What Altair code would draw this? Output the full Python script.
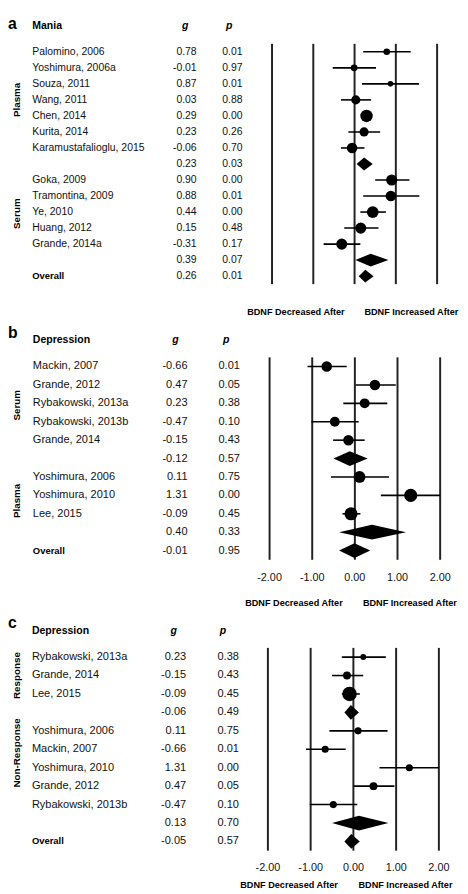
import altair as alt
import pandas as pd

FONT = "Liberation Sans"

# ---------------- data ----------------
ticks = [-2, -1, 0, 1, 2]
tick_labels = ["-2.00", "-1.00", "0.00", "1.00", "2.00"]

# Panel a : Mania
names_a = ["Palomino, 2006", "Yoshimura, 2006a", "Souza, 2011", "Wang, 2011", "Chen, 2014",
           "Kurita, 2014", "Karamustafalioglu, 2015", "", "Goka, 2009", "Tramontina, 2009",
           "Ye, 2010", "Huang, 2012", "Grande, 2014a", "", "Overall"]
g_a = [0.78, -0.01, 0.87, 0.03, 0.29, 0.23, -0.06, 0.23, 0.90, 0.88, 0.44, 0.15, -0.31, 0.39, 0.26]
p_a = ["0.01", "0.97", "0.01", "0.88", "0.00", "0.26", "0.70", "0.03", "0.00", "0.01", "0.00",
       "0.48", "0.17", "0.07", "0.01"]
lo_a = [0.21, -0.53, 0.18, -0.33, 0.17, -0.15, -0.33, 0.05, 0.50, 0.21, 0.14, -0.25, -0.75, 0.02, 0.10]
hi_a = [1.36, 0.52, 1.56, 0.40, 0.41, 0.62, 0.24, 0.44, 1.33, 1.57, 0.76, 0.58, 0.14, 0.82, 0.46]
weight_a = [28, 31, 20, 54, 101, 54, 72, None, 80, 72, 90, 80, 80, None, None]
groups_a = ["Plasma", "Serum"]
group_rows_a = [4.0, 11.1]

# Panel b : Depression
names_b = ["Mackin, 2007", "Grande, 2012", "Rybakowski, 2013a", "Rybakowski, 2013b", "Grande, 2014",
           "", "Yoshimura, 2006", "Yoshimura, 2010", "Lee, 2015", "", "Overall"]
g_b = [-0.66, 0.47, 0.23, -0.47, -0.15, -0.12, 0.11, 1.31, -0.09, 0.40, -0.01]
p_b = ["0.01", "0.05", "0.38", "0.10", "0.43", "0.57", "0.75", "0.00", "0.45", "0.33", "0.95"]
lo_b = [-1.11, 0.02, -0.27, -1.02, -0.51, -0.50, -0.56, 0.61, -0.29, -0.37, -0.37]
hi_b = [-0.19, 0.96, 0.76, 0.09, 0.23, 0.30, 0.80, 2.00, 0.13, 1.20, 0.36]
weight_b = [72, 72, 63, 63, 72, None, 90, 111, 111, None, None]
groups_b = ["Serum", "Plasma"]
group_rows_b = [3.1, 8.3]

# Panel c : Depression (response)
names_c = ["Rybakowski, 2013a", "Grande, 2014", "Lee, 2015", "", "Yoshimura, 2006", "Mackin, 2007",
           "Yoshimura, 2010", "Grande, 2012", "Rybakowski, 2013b", "", "Overall"]
g_c = [0.23, -0.15, -0.09, -0.06, 0.11, -0.66, 1.31, 0.47, -0.47, 0.13, -0.05]
p_c = ["0.38", "0.43", "0.45", "0.49", "0.75", "0.01", "0.00", "0.05", "0.10", "0.70", "0.57"]
lo_c = [-0.27, -0.50, -0.27, -0.21, -0.56, -1.11, 0.61, 0.00, -1.02, -0.50, -0.21]
hi_c = [0.76, 0.23, 0.15, 0.13, 0.80, -0.18, 2.00, 0.96, 0.09, 0.82, 0.15]
weight_c = [23, 40, 135, None, 33, 33, 33, 40, 33, None, None]
groups_c = ["Response", "Non-Response"]
group_rows_c = [2.0, 6.2]

dec_label = "BDNF Decreased After"
inc_label = "BDNF Increased After"

# ---------------- layout (pixels) ----------------
LAY_A = dict(h=308, xr=[268.7, 436.7], yr=[32.7, 261.0], fs=10.6, name_x=24.7, g_r=192, p_r=238.7,
             g_head=180.3, p_head=225, head_y=6, letter_y=9, ticks_y=None, bdnf_y=297.7,
             bdnf_x=[293, 410.5])
LAY_B = dict(h=296, xr=[266.2, 439.8], yr=[45.0, 232.3], fs=11.2, name_x=25.3, g_r=182.7, p_r=236,
             g_head=170.3, p_head=222, head_y=18, letter_y=16, ticks_y=260, bdnf_y=285.7,
             bdnf_x=[291, 409])
LAY_C = dict(h=284, xr=[264.5, 438.5], yr=[44.7, 232.3], fs=11.2, name_x=24.3, g_r=181.3, p_r=235,
             g_head=168.7, p_head=218.7, head_y=18, letter_y=15, ticks_y=259, bdnf_y=277,
             bdnf_x=[286, 404.5])


def one_text(txt, x, y, **kw):
    return alt.Chart(pd.DataFrame({"t": [txt]})).mark_text(font=FONT, color="black", **kw).encode(
        x=alt.value(x), y=alt.value(y), text="t:N")


def panel(letter, header, names, g, p, lo, hi, weight, groups, group_rows, L):
    n = len(names)
    rows = list(range(1, n + 1))
    kind = ["overall" if nm == "Overall" else ("pooled" if nm == "" else "study") for nm in names]
    df = pd.DataFrame(dict(row=rows, name=names, g=g, p=p, lo=lo, hi=hi, w=weight, kind=kind))
    df["gtxt"] = [f"{v:.2f}" for v in g]
    studies = df[df.kind == "study"]
    pooled = df[df.kind != "study"]
    dia = []
    for _, r in pooled.iterrows():
        dia += [dict(id=int(r.row), x=r.lo, y=r.row, y2=r.row),
                dict(id=int(r.row), x=r.g, y=r.row - 0.4, y2=r.row + 0.4),
                dict(id=int(r.row), x=r.hi, y=r.row, y2=r.row)]
    dia = pd.DataFrame(dia)
    tk = pd.DataFrame(dict(t=ticks, lab=tick_labels, ya=[0.5] * 5, yb=[n + 0.5] * 5))
    gr = pd.DataFrame(dict(lab=groups, row=group_rows))

    xs = alt.Scale(domain=[-2, 2], range=L["xr"], nice=False, zero=False)
    ys = alt.Scale(domain=[1, n], range=L["yr"], nice=False, zero=False)

    def X(f):
        return alt.X(f, scale=xs, axis=None)

    def Y(f):
        return alt.Y(f, scale=ys, axis=None)

    vlines = alt.Chart(tk).mark_rule(color="#222", strokeWidth=2).encode(
        x=X("t:Q"), y=Y("ya:Q"), y2="yb:Q")
    ci = alt.Chart(studies).mark_rule(color="black", strokeWidth=1.6).encode(
        x=X("lo:Q"), x2="hi:Q", y=Y("row:Q"))
    pts = alt.Chart(studies).mark_point(filled=True, shape="circle", color="black", opacity=1).encode(
        x=X("g:Q"), y=Y("row:Q"),
        size=alt.Size("w:Q", scale=alt.Scale(type="linear", domain=[0, 100], range=[0, 160]), legend=None))
    dmd = alt.Chart(dia).mark_area(color="black", opacity=1, orient="vertical").encode(
        x=X("x:Q"), y=Y("y:Q"), y2="y2:Q", detail="id:N")

    base_txt = dict(font=FONT, baseline="middle", fontSize=L["fs"])
    nm = alt.Chart(df[df.kind == "study"]).mark_text(align="left", color="#111", **base_txt).encode(
        x=alt.value(L["name_x"]), y=Y("row:Q"), text="name:N")
    ov = alt.Chart(df[df.kind == "overall"]).mark_text(
        align="left", color="black", font=FONT, baseline="middle", fontSize=9.6, fontWeight="bold").encode(
        x=alt.value(L["name_x"]), y=Y("row:Q"), text="name:N")
    gt = alt.Chart(df).mark_text(align="right", color="#111", **base_txt).encode(
        x=alt.value(L["g_r"]), y=Y("row:Q"), text="gtxt:N")
    pt = alt.Chart(df).mark_text(align="right", color="#111", **base_txt).encode(
        x=alt.value(L["p_r"]), y=Y("row:Q"), text="p:N")
    grp = alt.Chart(gr).mark_text(angle=270, align="center", baseline="middle", font=FONT,
                                  fontSize=10, fontWeight="bold", color="black").encode(
        x=alt.value(9), y=Y("row:Q"), text="lab:N")

    layers = [vlines, ci, dmd, pts, nm, ov, gt, pt, grp,
              one_text(letter, 0, L["letter_y"], align="left", baseline="alphabetic",
                       fontSize=16, fontWeight="bold"),
              one_text(header, L["name_x"], L["head_y"], align="left", baseline="middle",
                       fontSize=10.7, fontWeight="bold"),
              one_text("g", L["g_head"], L["head_y"], align="center", baseline="middle",
                       fontSize=10.7, fontWeight="bold", fontStyle="italic"),
              one_text("p", L["p_head"], L["head_y"], align="center", baseline="middle",
                       fontSize=10.7, fontWeight="bold", fontStyle="italic"),
              one_text(dec_label, L["bdnf_x"][0], L["bdnf_y"], align="center", baseline="middle",
                       fontSize=9.3, fontWeight="bold"),
              one_text(inc_label, L["bdnf_x"][1], L["bdnf_y"], align="center", baseline="middle",
                       fontSize=9.3, fontWeight="bold"),
              ]
    if L["ticks_y"] is not None:
        layers.append(alt.Chart(tk).mark_text(font=FONT, fontSize=11, color="#111", align="center",
                                              baseline="middle").encode(
            x=X("t:Q"), y=alt.value(L["ticks_y"]), text="lab:N"))
    return alt.layer(*layers).properties(width=460, height=L["h"])


pa = panel("a", "Mania", names_a, g_a, p_a, lo_a, hi_a, weight_a, groups_a, group_rows_a, LAY_A)
pb = panel("b", "Depression", names_b, g_b, p_b, lo_b, hi_b, weight_b, groups_b, group_rows_b, LAY_B)
pc = panel("c", "Depression", names_c, g_c, p_c, lo_c, hi_c, weight_c, groups_c, group_rows_c, LAY_C)

chart = alt.vconcat(pa, pb, pc, spacing=0).properties(padding=0).configure_view(
    stroke=None).configure_concat(spacing=0)

chart.save("out.html", embed_options={"renderer": "svg", "actions": False})
